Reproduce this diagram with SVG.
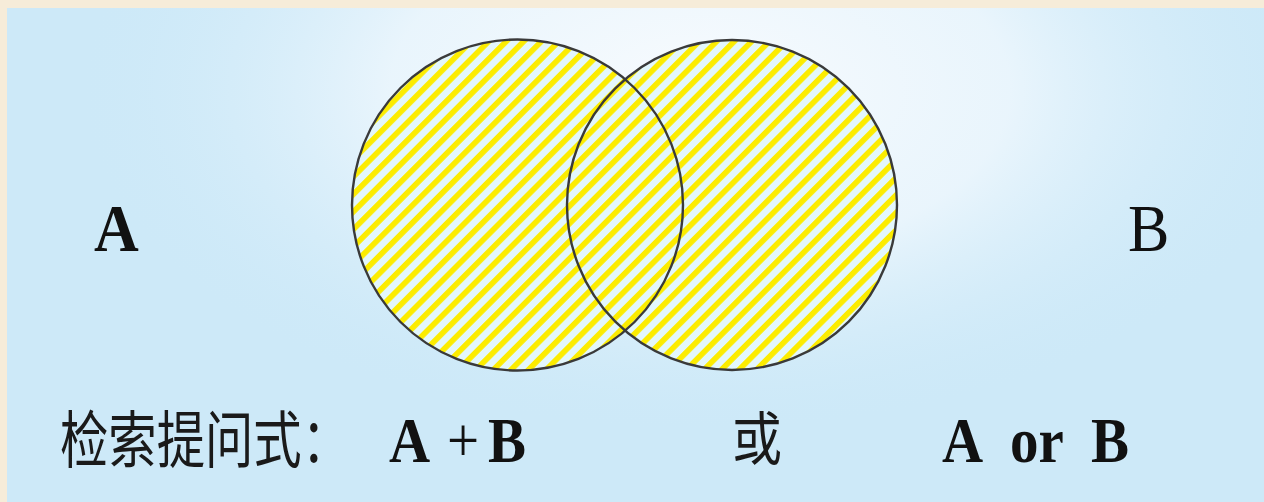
<svg xmlns="http://www.w3.org/2000/svg" width="1264" height="502" viewBox="0 0 1264 502">
  <defs>
    <radialGradient id="glow" cx="700" cy="90" r="620" gradientUnits="userSpaceOnUse" gradientTransform="translate(700 90) scale(1 0.55) translate(-700 -90)">
      <stop offset="0" stop-color="#f8fbfe" stop-opacity="1"/>
      <stop offset="0.5" stop-color="#eef7fd" stop-opacity="0.85"/>
      <stop offset="1" stop-color="#cfeaf8" stop-opacity="0"/>
    </radialGradient>
    <pattern id="stripes" patternUnits="userSpaceOnUse" width="12.4" height="12.4" patternTransform="rotate(45)">
      <rect x="0" y="0" width="12.4" height="12.4" fill="#e3f7fc"/>
      <rect x="0" y="0" width="5.6" height="12.4" fill="#fcec00"/>
    </pattern>
    <style>
      .circ { fill: url(#stripes); }
      .edge { fill: none; stroke: #3a3a3a; stroke-width: 2.4; }
      .lat { font-family: "Liberation Serif", "Times New Roman", serif; fill: #111; }
      .bold { font-weight: bold; }
      .cjk { font-family: "Noto Sans CJK SC", "Noto Sans CJK TC", sans-serif; fill: #1a1a1a; }
    </style>
  </defs>

  <!-- frame and background -->
  <rect x="0" y="0" width="1264" height="502" fill="#f6ecd9"/>
  <rect x="7" y="8" width="1257" height="494" fill="#cde9f8"/>
  <rect x="7" y="8" width="1257" height="494" fill="url(#glow)"/>

  <g id="circleA">
    <circle class="circ" cx="517.5" cy="205" r="165.5"/>
  </g>
  <g id="circleB">
    <circle class="circ" cx="732" cy="205" r="165"/>
  </g>
  <g id="edges">
    <circle class="edge" cx="517.5" cy="205" r="165.5"/>
    <circle class="edge" cx="732" cy="205" r="165"/>
  </g>

  <g id="labelA">
    <text class="lat bold" font-size="62" transform="translate(94 251) scale(1 1.1)">A</text>
  </g>
  <g id="labelB">
    <text class="lat" font-size="62" transform="translate(1128 251) scale(1 1.1)">B</text>
  </g>

  <g id="query">
    <text class="cjk" font-size="52" textLength="290" lengthAdjust="spacingAndGlyphs" transform="translate(60 463) scale(1 1.2)">检索提问式：</text>
    <text class="lat bold" font-size="57" transform="translate(389 462) scale(1 1.1)">A</text>
    <text class="lat" font-size="57" transform="translate(447 462) scale(1 1.1)">+</text>
    <text class="lat bold" font-size="57" transform="translate(488 462) scale(1 1.1)">B</text>
    <text class="cjk" font-size="50" transform="translate(732 460) scale(1 1.15)">或</text>
    <text class="lat bold" font-size="57" transform="translate(942 462) scale(1 1.1)">A</text>
    <text class="lat bold" font-size="57" transform="translate(1010 462) scale(1 1.1)">or</text>
    <text class="lat bold" font-size="57" transform="translate(1091 462) scale(1 1.1)">B</text>
  </g>
</svg>
